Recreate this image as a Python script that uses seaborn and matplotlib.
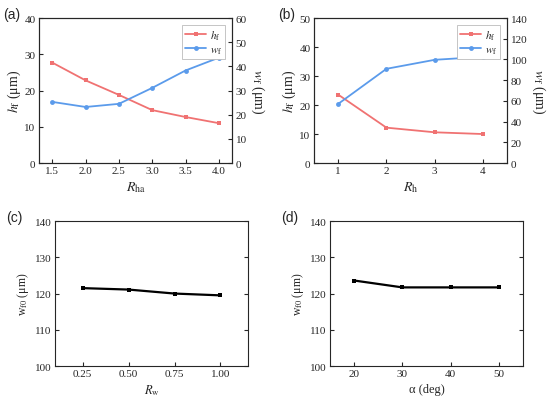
import numpy as np
import pandas as pd
import seaborn as sns
import matplotlib
matplotlib.use('Agg')
import matplotlib.pyplot as plt

# data
r_ha = [1.5, 2.0, 2.5, 3.0, 3.5, 4.0]
hf_a = [27.7, 22.8, 18.8, 14.6, 12.7, 11.0]
wf_a = [25.3, 23.2, 24.5, 31.1, 38.3, 43.6]

r_h = [1, 2, 3, 4]
hf_b = [23.6, 12.2, 10.6, 10.0]
wf_b = [57.1, 91.0, 99.7, 102.6]

r_w = [0.25, 0.50, 0.75, 1.00]
wf0_c = [121.5, 121.1, 120.0, 119.5]

alpha = [20, 30, 40, 50]
wf0_d = [123.6, 121.7, 121.7, 121.7]

sns.set_style('ticks')
plt.rcParams['font.family'] = ['Liberation Serif', 'DejaVu Serif']
plt.rcParams['mathtext.fontset'] = 'stix'
plt.rcParams['xtick.direction'] = 'in'
plt.rcParams['ytick.direction'] = 'in'
plt.rcParams['axes.linewidth'] = 0.8

red = '#F07272'
blue = '#5B9BEB'

fig = plt.figure(figsize=(5.5, 4.06), dpi=100)
ax_a = fig.add_axes([0.071, 0.596, 0.351, 0.357])
ax_b = fig.add_axes([0.571, 0.596, 0.351, 0.357])
ax_c = fig.add_axes([0.100, 0.096, 0.351, 0.357])
ax_d = fig.add_axes([0.600, 0.096, 0.351, 0.357])


def twin_panel(ax, x, hf, wf, hlim, wlim, wticks, xlim, xticks, xlabel, xfmt):
    ax2 = ax.twinx()
    sns.lineplot(x=x, y=hf, ax=ax, color=red, marker='s', markersize=3.5,
                 markeredgewidth=0, linewidth=1.3, label='$h_\\mathrm{f}$', legend=False)
    sns.lineplot(x=x, y=wf, ax=ax2, color=blue, marker='o', markersize=3.5,
                 markeredgewidth=0, linewidth=1.3, label='$w_\\mathrm{f}$', legend=False)
    ax.set_ylim(*hlim)
    ax2.set_ylim(*wlim)
    ax2.set_yticks(wticks)
    ax.set_xlim(*xlim)
    ax.set_xticks(xticks)
    ax.set_xticklabels([xfmt.format(v) for v in xticks])
    ax.set_xlabel(xlabel, fontsize=10, labelpad=3)
    ax.set_ylabel('$h_\\mathrm{f}$ (μm)', fontsize=10, labelpad=1)
    ax2.set_ylabel('$w_\\mathrm{f}$ (μm)', fontsize=10, rotation=270, va='bottom', labelpad=2)
    for a in (ax, ax2):
        a.tick_params(labelsize=8, length=3, width=0.8, pad=2.5)
    h1, l1 = ax.get_legend_handles_labels()
    h2, l2 = ax2.get_legend_handles_labels()
    leg = ax2.legend(h1 + h2, l1 + l2, loc='upper right', fontsize=8,
                     fancybox=False, edgecolor='#bbbbbb', framealpha=1,
                     handlelength=1.9, borderaxespad=0.6, labelspacing=0.25,
                     handletextpad=0.3, borderpad=0.3)
    leg.get_frame().set_linewidth(0.6)
    return ax2


twin_panel(ax_a, r_ha, hf_a, wf_a, (0, 40), (0, 60), np.arange(0, 61, 10),
           (1.3, 4.2), r_ha, '$R_\\mathrm{ha}$', '{:.1f}')
ax_a.set_yticks(np.arange(0, 41, 10))
twin_panel(ax_b, r_h, hf_b, wf_b, (0, 50), (0, 140), np.arange(0, 141, 20),
           (0.5, 4.5), r_h, '$R_\\mathrm{h}$', '{:d}')
ax_b.set_yticks(np.arange(0, 51, 10))


def single_panel(ax, x, y, xlim, xticks, xlabel, xfmt):
    sns.lineplot(x=x, y=y, ax=ax, color='black', marker='s', markersize=3.5,
                 markeredgewidth=0, linewidth=1.6)
    ax.set_ylim(100, 140)
    ax.set_yticks(np.arange(100, 141, 10))
    ax.set_xlim(*xlim)
    ax.set_xticks(xticks)
    ax.set_xticklabels([xfmt.format(v) for v in xticks])
    ax.set_xlabel(xlabel, fontsize=9, labelpad=3)
    ax.set_ylabel('w$_\\mathrm{f0}$ (μm)', fontsize=8.5, labelpad=3)
    ax.tick_params(labelsize=8, length=3, width=0.8, pad=2.5, right=True)


single_panel(ax_c, r_w, wf0_c, (0.1, 1.15), r_w, '$R_\\mathrm{w}$', '{:.2f}')
single_panel(ax_d, alpha, wf0_d, (15, 55), alpha, 'α (deg)', '{:d}')

for lab, xx, yy in [('(a)', 0.006, 0.952), ('(b)', 0.506, 0.952),
                    ('(c)', 0.012, 0.452), ('(d)', 0.512, 0.452)]:
    fig.text(xx, yy, lab, fontsize=10, family=['Liberation Sans', 'DejaVu Sans'])

fig.savefig('out.png', dpi=100)
